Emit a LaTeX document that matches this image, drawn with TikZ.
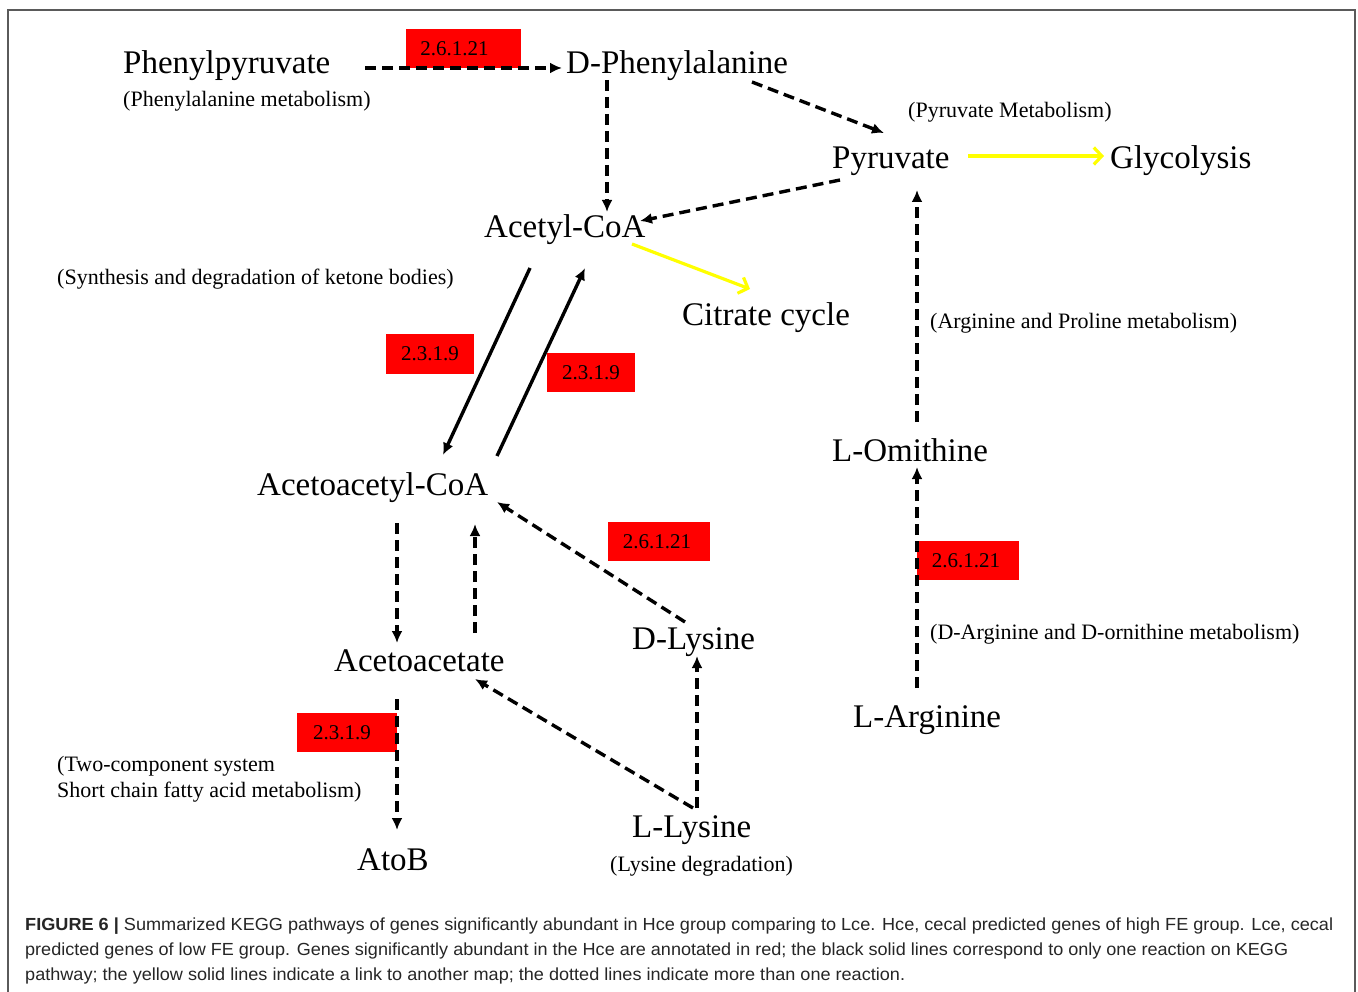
\documentclass[tikz,border=0pt]{standalone}
\usepackage{fontspec}
\usepackage{graphicx}
\setmainfont{Liberation Serif}
\newfontfamily\capfont{Liberation Sans}
\usetikzlibrary{arrows.meta,calc}
\definecolor{framegray}{HTML}{5A5A5A}
\definecolor{ecred}{HTML}{FF0000}
\definecolor{yel}{HTML}{FFFF00}
\begin{document}
\begin{tikzpicture}[x=1pt,y=-1pt,
  big/.style={anchor=base west, inner sep=0pt, font=\fontsize{33}{40}\selectfont},
  small/.style={anchor=base west, inner sep=0pt, font=\fontsize{22}{26}\selectfont},
  ec/.style={fill=ecred, inner sep=0pt, font=\fontsize{21}{25}\selectfont, text=black},
  dasharrow/.style={line width=3.4pt, dash pattern=on 11pt off 6pt, -{Latex[length=12pt,width=11pt]}},
  solidarrow/.style={line width=3.4pt, -{Latex[length=12pt,width=11pt]}},
  yelarrow/.style={line width=3.2pt, draw=yel, -{Straight Barb[length=8pt,width=17pt]}},
  captxt/.style={anchor=base west, inner sep=0pt, font=\capfont\fontsize{17.5}{20}\selectfont, text=black!85}
]
\useasboundingbox (0,0) rectangle (1358,992);
\fill[white] (0,0) rectangle (1358,992);
% frame
\draw[framegray, line width=1.5pt] (8,1000) -- (8,10) -- (1355,10) -- (1355,1000);

% enzyme boxes (drawn first, arrows go over them)
\node[ec, minimum width=115pt, minimum height=39pt] (e1) at (463.5,48.5) {\hspace*{-18pt}2.6.1.21};
\node[ec, minimum width=88pt, minimum height=40pt] (e2) at (430,354) {2.3.1.9};
\node[ec, minimum width=88pt, minimum height=39pt] (e3) at (591,372.5) {2.3.1.9};
\node[ec, minimum width=102pt, minimum height=39pt] (e4) at (659,541.5) {\hspace*{-4pt}2.6.1.21};
\node[ec, minimum width=102pt, minimum height=39pt] (e5) at (968,560.5) {\hspace*{-4pt}2.6.1.21};
\node[ec, minimum width=100pt, minimum height=39pt] (e6) at (347,732.5) {\hspace*{-10pt}2.3.1.9};

% compounds
\node[big] (pp) at (123,74) {Phenylpyruvate};
\node[small] (ppm) at (123,107) {(Phenylalanine metabolism)};
\node[big] (dphe) at (566,74) {D-Phenylalanine};
\node[small] (pym) at (908,118) {(Pyruvate Metabolism)};
\node[big] (pyr) at (832,169) {Pyruvate};
\node[big] (gly) at (1110,169) {Glycolysis};
\node[big] (acoa) at (484,238) {Acetyl-CoA};
\node[small] (ket) at (57,285) {(Synthesis and degradation of ketone bodies)};
\node[big] (cit) at (682,326) {Citrate cycle};
\node[small] (apm) at (930,329) {(Arginine and Proline metabolism)};
\node[big] (orn) at (832,461) {L-Omithine};
\node[big] (aacoa) at (257,495) {Acetoacetyl-CoA};
\node[big] (dlys) at (632,649) {D-Lysine};
\node[small] (dam) at (930,639) {(D-Arginine and D-ornithine metabolism)};
\node[big] (aac) at (334,671) {Acetoacetate};
\node[big] (arg) at (853,727) {L-Arginine};
\node[small, anchor=north west, align=left] (tcs) at (57,756) {(Two-component system\\Short chain fatty acid metabolism)};
\node[big] (llys) at (632,837) {L-Lysine};
\node[small] (lysd) at (610,871) {(Lysine degradation)};
\node[big] (atob) at (357,870) {AtoB};

% connectors
\draw[dasharrow] ([shift={(242,-6)}]pp.base west) -- ([shift={(-4,-6)}]dphe.base west);
\draw[dasharrow] ([shift={(41,6)}]dphe.base west) -- ([shift={(123,-26)}]acoa.base west);
\draw[dasharrow] ([shift={(186,8)}]dphe.base west) -- ([shift={(52,-36)}]pyr.base west);
\draw[dasharrow] ([shift={(8,11)}]pyr.base west) -- ([shift={(156,-17)}]acoa.base west);
\draw[yelarrow] ([shift={(136,-13)}]pyr.base west) -- ([shift={(-6,-13)}]gly.base west);
\draw[yelarrow] ([shift={(148,6)}]acoa.base west) -- ([shift={(68,-37)}]cit.base west);
\draw[solidarrow] ([shift={(46,30)}]acoa.base west) -- ([shift={(186,-40)}]aacoa.base west);
\draw[solidarrow] ([shift={(240,-39)}]aacoa.base west) -- ([shift={(101,30)}]acoa.base west);
\draw[dasharrow] ([shift={(140,28)}]aacoa.base west) -- ([shift={(63,-28)}]aac.base west);
\draw[dasharrow] ([shift={(141,-38)}]aac.base west) -- ([shift={(218,29)}]aacoa.base west);
\draw[dasharrow] ([shift={(53,-27)}]dlys.base west) -- ([shift={(240,7)}]aacoa.base west);
\draw[dasharrow] ([shift={(65,-29)}]llys.base west) -- ([shift={(65,7)}]dlys.base west);
\draw[dasharrow] ([shift={(61,-29)}]llys.base west) -- ([shift={(141,8)}]aac.base west);
\draw[dasharrow] ([shift={(63,28)}]aac.base west) -- ([shift={(40,-40)}]atob.base west);
\draw[dasharrow] ([shift={(64,-39)}]arg.base west) -- ([shift={(85,6)}]orn.base west);
\draw[dasharrow] ([shift={(85,-39)}]orn.base west) -- ([shift={(85,21)}]pyr.base west);

% caption
\node[captxt] (cap1) at (25,930) {\resizebox{1308pt}{\height}{\textbf{FIGURE 6 |} Summarized KEGG pathways of genes significantly abundant in Hce group comparing to Lce. Hce, cecal predicted genes of high FE group. Lce, cecal}};
\node[captxt] (cap2) at (25,955) {\resizebox{1263pt}{\height}{predicted genes of low FE group. Genes significantly abundant in the Hce are annotated in red; the black solid lines correspond to only one reaction on KEGG}};
\node[captxt] (cap3) at (25,980) {\resizebox{880pt}{\height}{pathway; the yellow solid lines indicate a link to another map; the dotted lines indicate more than one reaction.}};
\end{tikzpicture}
\end{document}
